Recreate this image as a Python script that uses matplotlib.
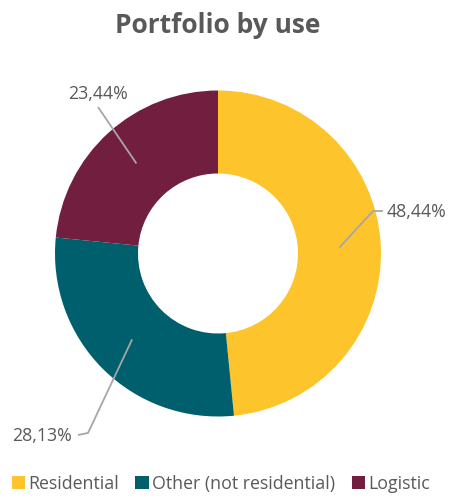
import numpy as np
import matplotlib.pyplot as plt
from matplotlib.patches import Patch

categories = ['Residential', 'Other (not residential)', 'Logistic']
shares = [48.44, 28.13, 23.44]
colors = ['#FDC42C', '#005F6D', '#721F3F']

TEXT = '#595959'
LEADER = '#A6A6A6'
W, H = 456, 498

plt.rcParams['font.family'] = ['Open Sans', 'DejaVu Sans']

fig = plt.figure(figsize=(W / 100, H / 100), dpi=100)
ax = fig.add_axes([0, 0, 1, 1])

cx, cy = 218, H - 253.5
R, r_in = 163, 80

wedges, _ = ax.pie(shares, colors=colors, startangle=90, counterclock=False,
                   radius=R, center=(cx, cy), frame=True,
                   wedgeprops=dict(width=R - r_in, edgecolor='none'))
ax.set_xlim(0, W)
ax.set_ylim(0, H)
ax.set_aspect('equal')
ax.axis('off')

# elbow points and text position per slice, in pixels from top-left
label_pos = [
    dict(path=[(373, 211), (383, 211)], text=(387, 212), ha='left'),
    dict(path=[(88, 433), (78, 435)], text=(72, 436), ha='right'),
    dict(path=[(98, 107)], text=(98, 94), ha='center'),
]

r_mid = (R + r_in) / 2
for w, val, lp in zip(wedges, shares, label_pos):
    ang = np.deg2rad((w.theta1 + w.theta2) / 2)
    x0 = cx + r_mid * np.cos(ang)
    y0 = cy + r_mid * np.sin(ang)
    xs = [x0] + [p[0] for p in lp['path']]
    ys = [y0] + [H - p[1] for p in lp['path']]
    ax.plot(xs, ys, color=LEADER, lw=1.3, solid_capstyle='butt')
    tx, ty = lp['text']
    ax.text(tx, H - ty, f'{val:.2f}%'.replace('.', ','), ha=lp['ha'],
            va='center', fontsize=12.8, color=TEXT)

ax.text(W / 2 - 10, H - 25, 'Portfolio by use', ha='center', va='center',
        fontsize=19, fontweight='bold', color=TEXT)

handles = [Patch(facecolor=c, edgecolor='none') for c in colors]
fig.legend(handles, categories, loc='center', bbox_to_anchor=(221 / W, 1 - 484 / H),
           ncol=3, frameon=False, fontsize=12.8, labelcolor=TEXT,
           handlelength=0.75, handleheight=0.75, handletextpad=0.2,
           columnspacing=0.9)

fig.savefig('out.png', dpi=100)
